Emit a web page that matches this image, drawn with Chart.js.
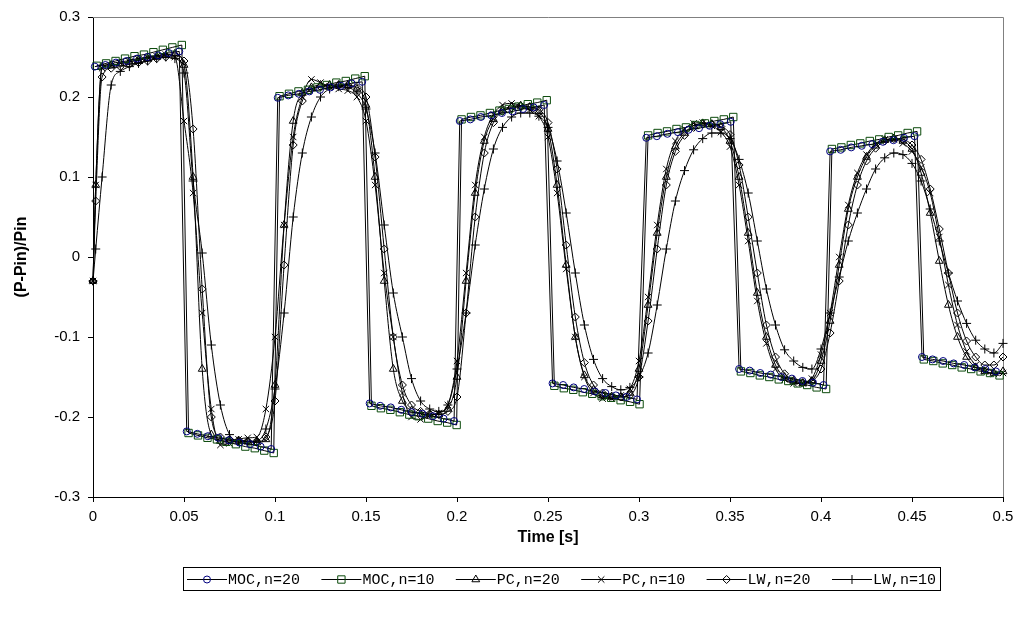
<!DOCTYPE html>
<html>
<head>
<meta charset="utf-8">
<title>Pressure transient</title>
<script src="https://cdn.jsdelivr.net/npm/chart.js@4.4.1/dist/chart.umd.min.js"></script>
<style>
  html, body { margin: 0; padding: 0; background: #fff; }
  #wrap { width: 1021px; height: 624px; position: relative; }
</style>
</head>
<body>
<div id="wrap"><canvas id="pressureChart"></canvas></div>
<script>
// tick labels as printed on the axes
const xTickLabels = ['0', '0.05', '0.1', '0.15', '0.2', '0.25', '0.3', '0.35', '0.4', '0.45', '0.5'];
const yTickLabels = ['-0.3', '-0.2', '-0.1', '0', '0.1', '0.2', '0.3'];
const seriesLabels = ['MOC,n=20', 'MOC,n=10', 'PC,n=20', 'PC,n=10', 'LW,n=20', 'LW,n=10'];

// MOC, n=20 (circles)
const mocN20Time = [
  0.001, 0.0068, 0.0126, 0.0184, 0.0242, 0.03, 0.0358, 0.0416, 0.0474,
  0.0515, 0.0573, 0.0631, 0.0689, 0.0747, 0.0805, 0.0863, 0.0921, 0.0979,
  0.1015, 0.1073, 0.1131, 0.1189, 0.1247, 0.1305, 0.1363, 0.1421, 0.1479,
  0.152, 0.1578, 0.1636, 0.1694, 0.1752, 0.181, 0.1868, 0.1926, 0.1984,
  0.2015, 0.2073, 0.2131, 0.2189, 0.2247, 0.2305, 0.2363, 0.2421, 0.2479,
  0.2525, 0.2583, 0.2641, 0.2699, 0.2757, 0.2815, 0.2873, 0.2931, 0.2989,
  0.304, 0.3098, 0.3156, 0.3214, 0.3272, 0.333, 0.3388, 0.3446, 0.3504,
  0.355, 0.3608, 0.3666, 0.3724, 0.3782, 0.384, 0.3898, 0.3956, 0.4014,
  0.405, 0.4108, 0.4166, 0.4224, 0.4282, 0.434, 0.4398, 0.4456, 0.4514,
  0.4555, 0.4613, 0.4671, 0.4729, 0.4787, 0.4845, 0.4903, 0.4961
];
const mocN20 = [
  0.238, 0.240, 0.243, 0.245, 0.248, 0.250, 0.252, 0.255, 0.257,
  -0.218, -0.221, -0.224, -0.226, -0.229, -0.232, -0.234, -0.237, -0.240,
  0.199, 0.202, 0.204, 0.207, 0.209, 0.212, 0.214, 0.217, 0.219,
  -0.183, -0.186, -0.188, -0.191, -0.194, -0.196, -0.199, -0.202, -0.205,
  0.170, 0.172, 0.175, 0.177, 0.180, 0.182, 0.185, 0.187, 0.190,
  -0.158, -0.160, -0.163, -0.165, -0.168, -0.170, -0.173, -0.175, -0.178,
  0.149, 0.151, 0.154, 0.156, 0.159, 0.161, 0.164, 0.166, 0.169,
  -0.140, -0.142, -0.145, -0.147, -0.150, -0.152, -0.155, -0.157, -0.160,
  0.132, 0.134, 0.137, 0.139, 0.141, 0.144, 0.146, 0.149, 0.151,
  -0.125, -0.128, -0.130, -0.133, -0.135, -0.138, -0.140, -0.143
];

// MOC, n=10 (squares)
const mocN10Time = [
  0.002, 0.0072, 0.0124, 0.0176, 0.0228, 0.028, 0.0332, 0.0384, 0.0436, 0.0488,
  0.0525, 0.0577, 0.0629, 0.0681, 0.0733, 0.0785, 0.0837, 0.0889, 0.0941, 0.0993,
  0.1025, 0.1077, 0.1129, 0.1181, 0.1233, 0.1285, 0.1337, 0.1389, 0.1441, 0.1493,
  0.153, 0.1582, 0.1634, 0.1686, 0.1738, 0.179, 0.1842, 0.1894, 0.1946, 0.1998,
  0.2025, 0.2077, 0.2129, 0.2181, 0.2233, 0.2285, 0.2337, 0.2389, 0.2441, 0.2493,
  0.2535, 0.2587, 0.2639, 0.2691, 0.2743, 0.2795, 0.2847, 0.2899, 0.2951, 0.3003,
  0.305, 0.3102, 0.3154, 0.3206, 0.3258, 0.331, 0.3362, 0.3414, 0.3466, 0.3518,
  0.356, 0.3612, 0.3664, 0.3716, 0.3768, 0.382, 0.3872, 0.3924, 0.3976, 0.4028,
  0.406, 0.4112, 0.4164, 0.4216, 0.4268, 0.432, 0.4372, 0.4424, 0.4476, 0.4528,
  0.4565, 0.4617, 0.4669, 0.4721, 0.4773, 0.4825, 0.4877, 0.4929, 0.4981
];
const mocN10 = [
  0.239, 0.242, 0.245, 0.248, 0.251, 0.253, 0.256, 0.259, 0.262, 0.265,
  -0.220, -0.223, -0.226, -0.228, -0.231, -0.234, -0.237, -0.239, -0.242, -0.245,
  0.201, 0.204, 0.207, 0.209, 0.212, 0.215, 0.218, 0.220, 0.223, 0.226,
  -0.186, -0.189, -0.191, -0.194, -0.197, -0.199, -0.202, -0.205, -0.207, -0.210,
  0.172, 0.175, 0.177, 0.180, 0.183, 0.185, 0.188, 0.191, 0.193, 0.196,
  -0.161, -0.164, -0.166, -0.169, -0.171, -0.174, -0.176, -0.179, -0.181, -0.184,
  0.152, 0.155, 0.157, 0.160, 0.162, 0.165, 0.167, 0.170, 0.172, 0.175,
  -0.143, -0.145, -0.148, -0.150, -0.153, -0.155, -0.158, -0.160, -0.163, -0.165,
  0.135, 0.137, 0.140, 0.142, 0.145, 0.147, 0.150, 0.152, 0.155, 0.157,
  -0.128, -0.130, -0.133, -0.135, -0.138, -0.140, -0.143, -0.145, -0.148
];

// PC and LW runs share one output time grid
const gridTime = [
  0, 0.0015, 0.005, 0.01, 0.015, 0.02, 0.025, 0.03, 0.035, 0.04, 0.045,
  0.05, 0.055, 0.06, 0.065, 0.07, 0.075, 0.08, 0.085, 0.09, 0.095,
  0.1, 0.105, 0.11, 0.115, 0.12, 0.125, 0.13, 0.135, 0.14, 0.145,
  0.15, 0.155, 0.16, 0.165, 0.17, 0.175, 0.18, 0.185, 0.19, 0.195,
  0.2, 0.205, 0.21, 0.215, 0.22, 0.225, 0.23, 0.235, 0.24, 0.245,
  0.25, 0.255, 0.26, 0.265, 0.27, 0.275, 0.28, 0.285, 0.29, 0.295,
  0.3, 0.305, 0.31, 0.315, 0.32, 0.325, 0.33, 0.335, 0.34, 0.345,
  0.35, 0.355, 0.36, 0.365, 0.37, 0.375, 0.38, 0.385, 0.39, 0.395,
  0.4, 0.405, 0.41, 0.415, 0.42, 0.425, 0.43, 0.435, 0.44, 0.445,
  0.45, 0.455, 0.46, 0.465, 0.47, 0.475, 0.48, 0.485, 0.49, 0.495, 0.5
];
const pcN20 = [
  -0.03, 0.09, 0.238, 0.24, 0.242, 0.244, 0.246, 0.248, 0.25, 0.252, 0.254,
  0.24, 0.1, -0.14, -0.222, -0.23, -0.23, -0.23, -0.231, -0.232, -0.228,
  -0.16, 0.04, 0.17, 0.205, 0.212, 0.215, 0.215, 0.215, 0.214, 0.21,
  0.19, 0.1, -0.03, -0.14, -0.18, -0.192, -0.196, -0.197, -0.197, -0.19,
  -0.15, -0.03, 0.08, 0.145, 0.172, 0.184, 0.188, 0.189, 0.187, 0.182,
  0.16, 0.09, -0.01, -0.1, -0.148, -0.166, -0.173, -0.175, -0.175, -0.17,
  -0.14, -0.06, 0.03, 0.1, 0.138, 0.155, 0.164, 0.167, 0.166, 0.162,
  0.145, 0.1, 0.03, -0.045, -0.1, -0.135, -0.15, -0.156, -0.158, -0.155,
  -0.13, -0.08, -0.01, 0.06, 0.1, 0.125, 0.139, 0.146, 0.148, 0.145,
  0.135, 0.105, 0.055, -0.005, -0.06, -0.1, -0.125, -0.138, -0.143, -0.145, -0.143
];
const pcN10 = [
  -0.03, 0.09, 0.236, 0.239, 0.242, 0.244, 0.247, 0.249, 0.251, 0.253, 0.25,
  0.17, 0.08, -0.07, -0.19, -0.235, -0.233, -0.228, -0.226, -0.225, -0.19,
  -0.1, 0.04, 0.15, 0.2, 0.222, 0.218, 0.213, 0.21, 0.208, 0.2,
  0.17, 0.09, -0.02, -0.1, -0.17, -0.2, -0.203, -0.198, -0.195, -0.185,
  -0.13, -0.02, 0.09, 0.15, 0.178, 0.19, 0.192, 0.189, 0.184, 0.176,
  0.15, 0.08, -0.015, -0.1, -0.15, -0.17, -0.177, -0.177, -0.173, -0.165,
  -0.13, -0.05, 0.04, 0.11, 0.145, 0.16, 0.167, 0.168, 0.164, 0.156,
  0.138, 0.09, 0.02, -0.055, -0.108, -0.14, -0.153, -0.158, -0.158, -0.152,
  -0.122, -0.07, 0.0, 0.065, 0.105, 0.128, 0.141, 0.147, 0.147, 0.142,
  0.132, 0.112, 0.08, 0.025, -0.035, -0.085, -0.118, -0.135, -0.143, -0.146, -0.145
];
const lwN20 = [
  -0.03, 0.07, 0.225, 0.236, 0.238, 0.241, 0.243, 0.245, 0.248, 0.25, 0.252,
  0.245, 0.16, -0.04, -0.2, -0.225, -0.228, -0.229, -0.23, -0.231, -0.225,
  -0.18, -0.01, 0.14, 0.195, 0.21, 0.213, 0.214, 0.215, 0.215, 0.212,
  0.2, 0.125, 0.01, -0.1, -0.16, -0.185, -0.193, -0.196, -0.197, -0.193,
  -0.175, -0.07, 0.05, 0.13, 0.168, 0.182, 0.187, 0.189, 0.188, 0.184,
  0.168, 0.11, 0.015, -0.075, -0.132, -0.16, -0.17, -0.174, -0.175, -0.173,
  -0.15, -0.08, 0.01, 0.09, 0.132, 0.152, 0.162, 0.166, 0.166, 0.163,
  0.153, 0.115, 0.05, -0.02, -0.085, -0.125, -0.146, -0.154, -0.157, -0.155,
  -0.14, -0.095, -0.03, 0.04, 0.09, 0.12, 0.136, 0.145, 0.148, 0.147,
  0.14, 0.122, 0.085, 0.035, -0.02, -0.07, -0.105, -0.125, -0.135, -0.135, -0.125
];
const lwN10 = [
  -0.03, 0.01, 0.1, 0.215, 0.232, 0.238, 0.242, 0.245, 0.248, 0.25, 0.248,
  0.23, 0.095, 0.005, -0.11, -0.185, -0.222, -0.23, -0.231, -0.23, -0.215,
  -0.165, -0.07, 0.05, 0.13, 0.175, 0.2, 0.21, 0.213, 0.212, 0.205,
  0.185, 0.13, 0.04, -0.045, -0.1, -0.152, -0.18, -0.19, -0.193, -0.185,
  -0.14, -0.07, 0.015, 0.085, 0.135, 0.162, 0.175, 0.18, 0.18, 0.176,
  0.162, 0.12, 0.055, -0.02, -0.085, -0.128, -0.152, -0.162, -0.166, -0.163,
  -0.15, -0.12, -0.06, 0.01, 0.07, 0.108, 0.134, 0.148, 0.155, 0.155,
  0.148, 0.122, 0.08, 0.02, -0.04, -0.085, -0.116, -0.13, -0.138, -0.14,
  -0.115, -0.07, -0.025, 0.02, 0.055, 0.085, 0.11, 0.124, 0.13, 0.128,
  0.117, 0.095, 0.06, 0.02, -0.02, -0.055, -0.083, -0.104, -0.115, -0.12, -0.108
];

function pairs(times, values) {
  return times.map((t, i) => ({ x: t, y: values[i] }));
}

function series(label, times, values, style, radius, edge, smooth) {
  return {
    label: label,
    data: pairs(times, values),
    showLine: true,
    borderColor: '#000',
    borderWidth: 1,
    pointStyle: style,
    pointRadius: radius,
    pointHoverRadius: radius,
    pointBorderColor: edge,
    pointBackgroundColor: 'rgba(0,0,0,0)',
    pointBorderWidth: 1,
    cubicInterpolationMode: smooth ? 'monotone' : 'default',
    tension: 0,
    clip: false
  };
}

// excel-style legend: line + marker sample, monospace text, framed box
const boxedLegend = {
  id: 'boxedLegend',
  afterDraw(chart) {
    const ctx = chart.ctx;
    const left = 183, right = 940, top = 567, bottom = 590;
    const midY = Math.round((top + bottom) / 2) + 0.5;
    const sampleW = 40, textGap = 1, pad = 4;
    ctx.save();
    ctx.strokeStyle = '#000';
    ctx.lineWidth = 1;
    ctx.strokeRect(left + 0.5, top + 0.5, right - left, bottom - top);
    ctx.font = '15px "Liberation Mono", "Courier New", monospace';
    ctx.textBaseline = 'middle';
    const widths = chart.data.datasets.map(d => sampleW + textGap + ctx.measureText(d.label).width);
    const used = widths.reduce((a, b) => a + b, 0);
    const gap = (right - left - 2 * pad - used) / (widths.length - 1);
    let x = left + pad;
    chart.data.datasets.forEach((d, i) => {
      ctx.strokeStyle = '#000';
      ctx.beginPath();
      ctx.moveTo(x, midY);
      ctx.lineTo(x + sampleW, midY);
      ctx.stroke();
      ctx.strokeStyle = d.pointBorderColor;
      ctx.fillStyle = 'rgba(0,0,0,0)';
      Chart.helpers.drawPoint(ctx, {
        pointStyle: d.pointStyle, radius: d.pointRadius, rotation: 0, borderWidth: 1
      }, x + sampleW / 2, midY);
      ctx.fillStyle = '#000';
      ctx.fillText(d.label, x + sampleW + textGap, midY + 0.5);
      x += widths[i] + gap;
    });
    ctx.restore();
  }
};

// grey frame on the top and right of the plot area
const plotFrame = {
  id: 'plotFrame',
  beforeDatasetsDraw(chart) {
    const { ctx, chartArea: a } = chart;
    ctx.save();
    ctx.strokeStyle = '#808080';
    ctx.lineWidth = 1;
    ctx.beginPath();
    ctx.moveTo(a.left, Math.round(a.top) + 0.5);
    ctx.lineTo(Math.round(a.right) + 0.5, Math.round(a.top) + 0.5);
    ctx.lineTo(Math.round(a.right) + 0.5, a.bottom);
    ctx.stroke();
    ctx.restore();
  }
};

Chart.defaults.font.family = '"Liberation Sans", Arial, sans-serif';
Chart.defaults.color = '#000';

const ctx = document.getElementById('pressureChart').getContext('2d');
new Chart(ctx, {
  type: 'scatter',
  data: {
    datasets: [
      series(seriesLabels[0], mocN20Time, mocN20, 'circle', 3.5, '#000080', false),
      series(seriesLabels[1], mocN10Time, mocN10, 'rect', 5.2, '#0b4a0b', false),
      series(seriesLabels[2], gridTime, pcN20, 'triangle', 4.5, '#000', true),
      series(seriesLabels[3], gridTime, pcN10, 'crossRot', 4.5, '#000', true),
      series(seriesLabels[4], gridTime, lwN20, 'rectRot', 4, '#000', true),
      series(seriesLabels[5], gridTime, lwN10, 'cross', 4.5, '#000', true)
    ]
  },
  options: {
    responsive: true,
    maintainAspectRatio: false,
    animation: false,
    layout: { padding: { left: 0, right: 18, top: 17, bottom: 72 } },
    plugins: {
      legend: { display: false },
      tooltip: { enabled: false }
    },
    scales: {
      x: {
        type: 'linear',
        min: 0,
        max: 0.5,
        afterFit: scale => { scale.height = 55; },
        border: { display: true, color: '#000', width: 1 },
        grid: { drawOnChartArea: false, drawTicks: true, tickLength: 5, color: '#000' },
        ticks: {
          stepSize: 0.05,
          autoSkip: false,
          maxRotation: 0,
          padding: 6,
          font: { size: 15 },
          callback: (v, i) => xTickLabels[i]
        },
        title: {
          display: true,
          text: 'Time [s]',
          font: { size: 16, weight: 'bold' },
          padding: { top: 4, bottom: 5 }
        }
      },
      y: {
        min: -0.3,
        max: 0.3,
        afterFit: scale => { scale.width = 93; },
        border: { display: true, color: '#000', width: 1 },
        grid: { drawOnChartArea: false, drawTicks: true, tickLength: 5, color: '#000' },
        ticks: {
          stepSize: 0.1,
          autoSkip: false,
          padding: 8,
          font: { size: 15 },
          callback: (v, i) => yTickLabels[i]
        },
        title: {
          display: true,
          text: '(P-Pin)/Pin',
          font: { size: 16, weight: 'bold' },
          padding: { top: 12, bottom: 0 }
        }
      }
    }
  },
  plugins: [plotFrame, boxedLegend]
});
</script>
</body>
</html>
